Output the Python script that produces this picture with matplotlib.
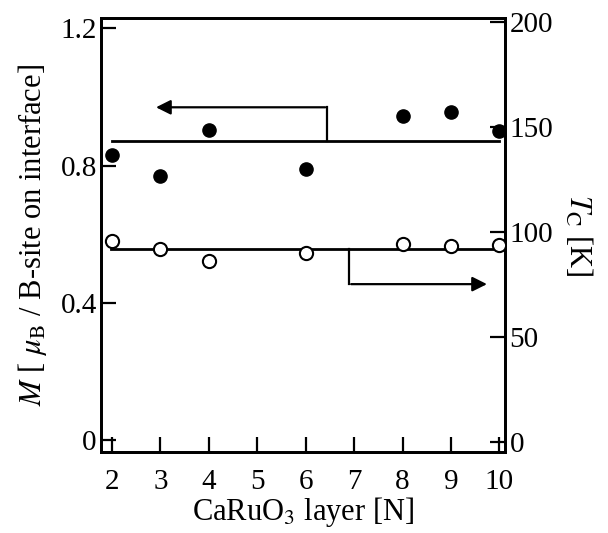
import matplotlib
matplotlib.use('Agg')
import matplotlib.pyplot as plt

plt.rcParams['font.family'] = 'Liberation Serif'
plt.rcParams['mathtext.fontset'] = 'stix'

# CaRuO3 layers
layers = [2, 3, 4, 6, 8, 9, 10]
# magnetization (left axis, filled)
M = [0.83, 0.77, 0.905, 0.79, 0.945, 0.955, 0.90]
M_avg = 0.873
# Curie temperature (right axis, open)
Tc = [96, 92, 86, 90, 94.3, 93.3, 93.8]
Tc_avg = 91.8

fig = plt.figure(figsize=(6.08, 5.33), dpi=100)
ax = fig.add_axes([0.166, 0.152, 0.665, 0.814])
ax2 = ax.twinx()

ax.plot(layers, M, 'o', color='black', ms=9.5, zorder=3)
ax.plot([2, 10], [M_avg, M_avg], '-', color='black', lw=2)
# arrow pointing to left axis
ax.plot([6.44, 6.44], [M_avg, 0.97], '-', color='black', lw=1.6)
ax.annotate('', xy=(2.85, 0.97), xytext=(6.46, 0.97),
            arrowprops=dict(arrowstyle='-|>', color='black', lw=1.6, mutation_scale=22))

ax2.plot(layers, Tc, 'o', mfc='white', mec='black', mew=1.5, ms=9.5, zorder=3)
ax2.plot([1.98, 10.05], [Tc_avg, Tc_avg], '-', color='black', lw=2)
ax2.plot([6.9, 6.9], [Tc_avg, 75.2], '-', color='black', lw=1.6)
ax2.annotate('', xy=(9.8, 75.2), xytext=(6.88, 75.2),
             arrowprops=dict(arrowstyle='-|>', color='black', lw=1.6, mutation_scale=22))

ax.set_xlim(1.77, 10.12)
ax.set_ylim(-0.035, 1.23)
ax2.set_ylim(-4.8, 202)
ax.set_xticks(range(2, 11))
ax.set_yticks([0, 0.4, 0.8, 1.2])
ax.set_yticklabels(['0', '0.4', '0.8', '1.2'])
ax2.set_yticks([0, 50, 100, 150, 200])

for a in (ax, ax2):
    for s in a.spines.values():
        s.set_linewidth(2)
ax.tick_params(axis='both', direction='in', length=11, width=1.6, labelsize=21, top=False, pad=3)
ax.tick_params(axis='x', pad=12)
ax2.tick_params(axis='y', direction='in', length=11, width=1.6, labelsize=21, pad=3)

ax.set_xlabel('CaRuO$_3$ layer [N]', fontsize=22, labelpad=0)
ax.set_ylabel('$M$ [ $\\mu_{\\rm B}$ / B-site on interface]', fontsize=22, labelpad=8)
ax2.set_ylabel('$T_{\\rm C}$ [K]', fontsize=22, rotation=270, labelpad=29)

fig.savefig('out.png', dpi=100)
